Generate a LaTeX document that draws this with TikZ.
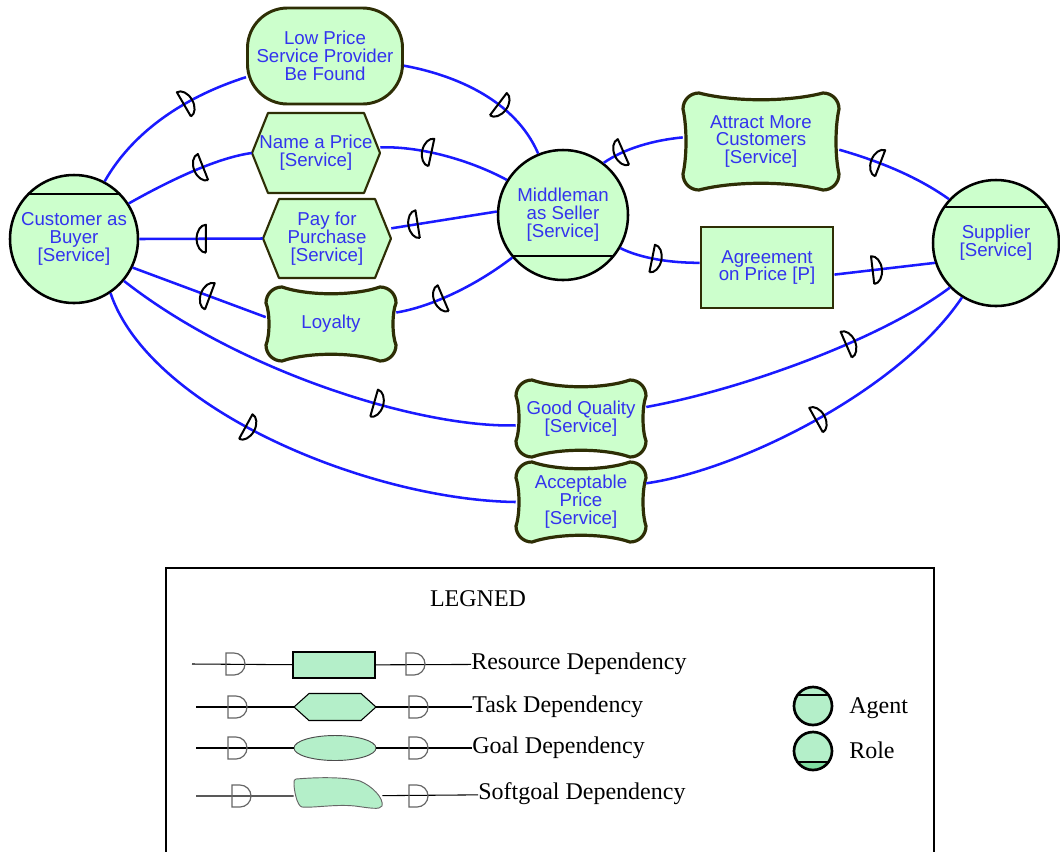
\documentclass[tikz,border=0pt]{standalone}
\usepackage{fontspec}
\setmainfont{Liberation Serif}
\newfontfamily\diagsans{Liberation Sans}
\usetikzlibrary{calc,shapes.geometric}
\definecolor{nfill}{HTML}{CCFFCC}
\definecolor{nborder}{HTML}{2E2E05}
\definecolor{ntext}{HTML}{3333EE}
\definecolor{connblue}{HTML}{1A1AFF}
\definecolor{lfill}{HTML}{B4EFC9}
\definecolor{rolegreen}{HTML}{7FDCA0}
\newcommand\SVC{[Service]}
% softgoal: name, x, y, half width, half height, text  (corner radius 16, dip 9)
\newcommand\softgoal[6]{%
  \path[sgline,shift={(#2,-#3)}] (-#4,#5-16) .. controls (-#4,#5-7) and (-#4+7,#5) .. (-#4+16,#5)
   .. controls (-0.35*#4,#5-9) and (0.35*#4,#5-9) .. (#4-16,#5)
   .. controls (#4-7,#5) and (#4,#5-7) .. (#4,#5-16)
   .. controls (#4-4,0.3*#5) and (#4-4,-0.3*#5) .. (#4,-#5+16)
   .. controls (#4,-#5+7) and (#4-7,-#5) .. (#4-16,-#5)
   .. controls (0.35*#4,-#5+9) and (-0.35*#4,-#5+9) .. (-#4+16,-#5)
   .. controls (-#4+7,-#5) and (-#4,-#5+7) .. (-#4,-#5+16)
   .. controls (-#4+4,-0.3*#5) and (-#4+4,0.3*#5) .. cycle;
  \node[txt, minimum width=1.5*#4 pt, minimum height=1.5*#5 pt] (#1) at (#2,-#3) {#6};}
% task hexagon: name, x, y, half width, half height, text
\newcommand\taskhex[6]{%
  \path[taskline,shift={(#2,-#3)}] (-#4,0) -- (-#4+16,#5) -- (#4-16,#5) -- (#4,0) -- (#4-16,-#5) -- (-#4+16,-#5) -- cycle;
  \node[txt, minimum width=1.5*#4 pt, minimum height=1.5*#5 pt] (#1) at (#2,-#3) {#6};}
\begin{document}
\begin{tikzpicture}[x=0.75pt,y=0.75pt,
  txt/.style={font=\diagsans\fontsize{14}{13.4}\selectfont, text=ntext, align=center, inner sep=0pt},
  actor/.style={txt, circle, draw=black, line width=1.9pt, fill=nfill},
  goalbox/.style={txt, draw=nborder, line width=2.2pt, fill=nfill, rounded corners=30pt},
  resbox/.style={txt, draw=nborder, line width=2.2pt, fill=nfill},
  taskline/.style={draw=nborder, line width=1.6pt, fill=nfill, line join=round},
  sgline/.style={draw=nborder, line width=2.4pt, fill=nfill, line join=round},
  chord/.style={draw=black, line width=1.5pt},
  link/.style={draw=connblue, line width=1.9pt},
  mk/.style={sloped, allow upside down},
  dmf/.pic={\draw[black, line width=1.5pt, line join=round] (0pt,-10.5pt) -- (0pt,10.5pt) arc[start angle=90,end angle=-90,x radius=7pt,y radius=10.5pt];},
  dmb/.pic={\draw[black, line width=1.5pt, line join=round] (0pt,-10.5pt) -- (0pt,10.5pt) arc[start angle=90,end angle=270,x radius=7pt,y radius=10.5pt];},
  ld/.pic={\draw[black!60, line width=0.9pt] (0pt,-8.25pt) -- (0pt,8.25pt) -- (6pt,8.25pt) arc[start angle=90,end angle=-90,radius=8.25pt] -- cycle;},
  legline/.style={draw=black, line width=0.8pt},
  legtxt/.style={font=\fontsize{18}{20}\selectfont, inner sep=0pt, anchor=west},
]
\fill[white] (0,0) rectangle (1060,-851);
\useasboundingbox (0,0) rectangle (1060,-851);

% ---------- actors ----------
\node[actor, minimum size=96pt] (cust) at (74,-239) {Customer as\\Buyer\\\SVC};
\node[actor, minimum size=97.5pt] (mid) at (563,-215) {Middleman\\as Seller\\\SVC};
\node[actor, minimum size=94.5pt] (sup) at (996,-243) {Supplier\\\SVC};
\draw[chord] ($(cust.center)+(-45.5,45)$) -- ($(cust.center)+(45.5,45)$);
\draw[chord] ($(mid.center)+(-50.4,-41)$) -- ($(mid.center)+(50.4,-41)$);
\draw[chord] ($(sup.center)+(-51.7,36)$) -- ($(sup.center)+(51.7,36)$);

% ---------- dependums ----------
\node[goalbox, minimum width=116.25pt, minimum height=72pt] (low) at (325,-56) {Low Price\\Service Provider\\Be Found};
\taskhex{name}{316}{153}{64}{40}{Name a Price\\\SVC}
\taskhex{pay}{327}{238.5}{64}{39.5}{Pay for\\Purchase\\\SVC}
\softgoal{loy}{331}{324}{65}{37}{Loyalty}
\softgoal{attr}{761}{141.5}{78}{48.5}{Attract More\\Customers\\\SVC}
\node[resbox, minimum width=99pt, minimum height=60.75pt] (agr) at (767,-267.5) {Agreement\\on Price [P]};
\softgoal{good}{581}{418.5}{65}{38.5}{Good Quality\\\SVC}
\softgoal{acc}{581}{502}{65}{40}{Acceptable\\Price\\\SVC}

% ---------- dependency links ----------
\draw[link] (cust.62) .. controls (135,-128) and (190,-95) .. (low.195) pic[pos=.62,mk]{dmf};
\draw[link] (low.-7) .. controls (455,-75) and (515,-100) .. (mid.112) pic[pos=.62,mk]{dmf};
\draw[link] (cust.33) .. controls (165,-183) and (215,-158) .. (name.west) pic[pos=.6,mk]{dmb};
\draw[link] (name.5) .. controls (420,-146) and (470,-160) .. (mid.148) pic[pos=.4,mk]{dmb};
\draw[link] (cust.east) -- (pay.west) pic[pos=.54,mk]{dmb};
\draw[link] (pay.9) -- (mid.177) pic[pos=.25,mk]{dmb};
\draw[link] (cust.-26) -- (loy.174) pic[pos=.58,mk]{dmb};
\draw[link] (loy.10) .. controls (425,-308) and (470,-290) .. (mid.220) pic[pos=.45,mk]{dmb};
\draw[link] (mid.52) .. controls (625,-148) and (655,-140) .. (attr.177) pic[pos=.28,mk]{dmb};
\draw[link] (attr.-6) .. controls (875,-160) and (915,-175) .. (sup.137) pic[pos=.37,mk]{dmb};
\draw[link] (mid.-30) .. controls (640,-258) and (670,-263) .. (agr.176) pic[pos=.45,mk]{dmf};
\draw[link] (agr.-6) -- (sup.198) pic[pos=.38,mk]{dmf};
\draw[link] (cust.-40) .. controls (240,-372) and (420,-428) .. (good.186) pic[pos=.61,mk]{dmf};
\draw[link] (good.10) .. controls (740,-390) and (880,-340) .. (sup.224) pic[pos=.62,mk]{dmf};
\draw[link] (cust.-56) .. controls (150,-410) and (370,-500) .. (acc.west) pic[pos=.44,mk]{dmf};
\draw[link] (acc.16) .. controls (740,-470) and (900,-390) .. (sup.238) pic[pos=.5,mk]{dmf};

% ---------- legend ----------
\draw[black, line width=0.9pt] (166,-860) -- (166,-568) -- (934,-568) -- (934,-860);
\node[font=\fontsize{18}{20}\selectfont, inner sep=0pt] (legt) at (478,-599) {LEGNED};

% resource
\coordinate (r1) at (192,-664);
\node[draw=black, line width=0.8pt, fill=lfill, minimum width=61.5pt, minimum height=19.5pt, inner sep=0pt] (lres) at (334,-665) {};
\node[legtxt] (lrest) at (471,-664) {Resource Dependency};
\draw[legline] (r1) -- (lres) -- (lrest);
\pic at (226,-664) {ld};
\pic at (406,-664) {ld};

% task
\coordinate (r2) at (196,-707);
\path[draw=black, line width=0.8pt, fill=lfill, shift={(335,-707)}] (-41,0) -- (-26,13.5) -- (26,13.5) -- (41,0) -- (26,-13.5) -- (-26,-13.5) -- cycle;
\node[inner sep=0pt, minimum width=61.5pt, minimum height=20.25pt] (ltask) at (335,-707) {};
\node[legtxt] (ltaskt) at (472,-707) {Task Dependency};
\draw[legline] (r2) -- (ltask) -- (ltaskt);
\pic at (228,-707) {ld};
\pic at (409,-707) {ld};

% goal
\coordinate (r3) at (196,-748);
\node[ellipse, draw=black!70, line width=0.7pt, fill=lfill, minimum width=61.5pt, minimum height=18.75pt, inner sep=0pt] (lgoal) at (335,-748) {};
\node[legtxt] (lgoalt) at (472,-748) {Goal Dependency};
\draw[legline] (r3) -- (lgoal) -- (lgoalt);
\pic at (228,-748) {ld};
\pic at (409,-748) {ld};

% softgoal
\coordinate (r4) at (196,-796);
\path[draw=black!60, line width=0.7pt, fill=lfill] (296,-779) .. controls (320,-777) and (345,-777) .. (360,-781)
  .. controls (372,-786) and (384,-798) .. (382,-806) .. controls (380,-810) and (370,-808) .. (355,-806)
  .. controls (335,-804) and (315,-808) .. (302,-807) .. controls (297,-806) and (294,-790) .. (294,-784)
  .. controls (294,-781) and (294,-779) .. cycle;
\node[inner sep=0pt, minimum width=66pt, minimum height=22.5pt] (lsoft) at (338,-796) {};
\node[legtxt] (lsoftt) at (478,-794) {Softgoal Dependency};
\draw[legline] (r4) -- (lsoft) -- (lsoftt);
\pic at (232,-796) {ld};
\pic at (409,-796) {ld};

% agent / role
\node[circle, draw=black, line width=2pt, fill=lfill, minimum size=28.5pt, inner sep=0pt] (lagent) at (813,-706) {};
\draw[black, line width=1pt] ($(lagent.center)+(-15.5,11)$) -- ($(lagent.center)+(15.5,11)$);
\node[legtxt] (lagentt) at (849,-708) {Agent};
\fill[lfill] (813,-751) circle[radius=14.25pt];
\fill[rolegreen] (797.5,-762) arc[start angle=215.4,end angle=324.6,radius=14.25pt] -- cycle;
\node[circle, draw=black, line width=2pt, minimum size=28.5pt, inner sep=0pt] (lrole) at (813,-751) {};
\draw[black, line width=1pt] ($(lrole.center)+(-15.5,-11)$) -- ($(lrole.center)+(15.5,-11)$);
\node[legtxt] (lrolet) at (849,-750) {Role};
\end{tikzpicture}
\end{document}
